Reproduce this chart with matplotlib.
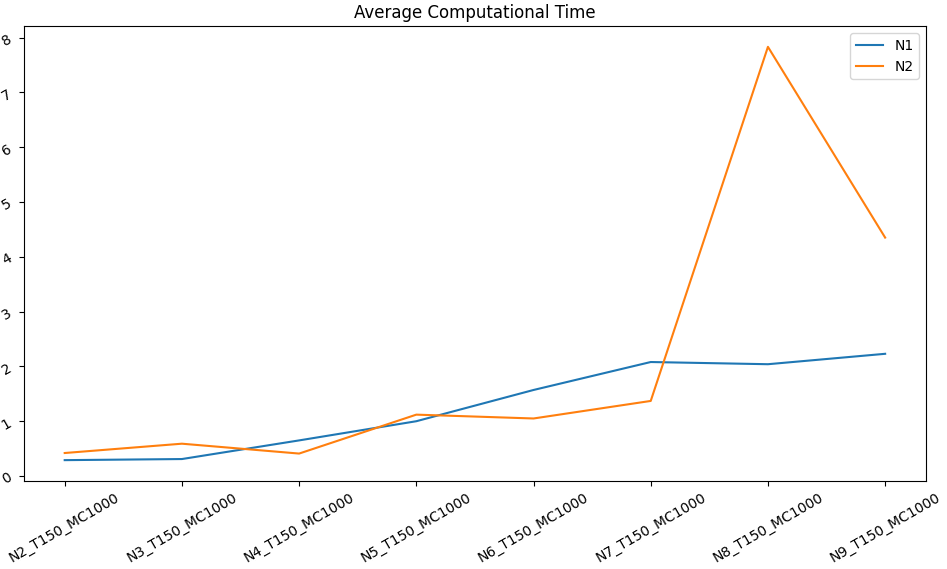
import matplotlib
matplotlib.use("Agg")
import matplotlib.pyplot as plt

categories = ["N2_T150_MC1000", "N3_T150_MC1000", "N4_T150_MC1000", "N5_T150_MC1000",
              "N6_T150_MC1000", "N7_T150_MC1000", "N8_T150_MC1000", "N9_T150_MC1000"]
n1 = [0.29, 0.31, 0.65, 1.00, 1.57, 2.08, 2.04, 2.23]
n2 = [0.42, 0.59, 0.41, 1.12, 1.05, 1.37, 7.83, 4.35]

fig, ax = plt.subplots(figsize=(9.47, 5.69), dpi=100)
fig.subplots_adjust(left=0.025, right=0.978, top=0.954, bottom=0.155)
ax.plot(categories, n1, label="N1")
ax.plot(categories, n2, label="N2")
ax.set_title("Average Computational Time")
ax.tick_params(axis="both", labelrotation=30)
ax.legend()
fig.savefig("out.png", dpi=100)
